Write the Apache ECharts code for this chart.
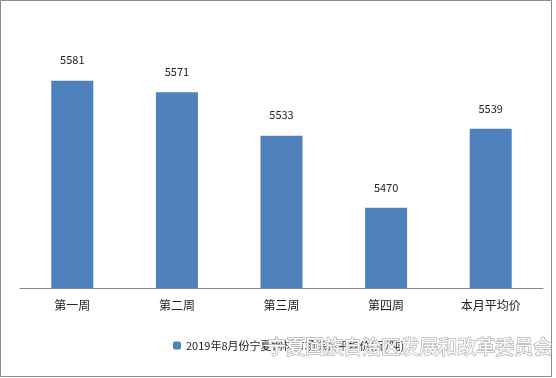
<!DOCTYPE html>
<html>
<head>
<meta charset="utf-8">
<script src="https://cdn.jsdelivr.net/npm/echarts@6/dist/echarts.min.js"></script>
<style>
    html, body { margin: 0; padding: 0; background: #fff; }
    #chart { width: 556px; height: 378px; }
</style>
</head>
<body>
<div id="chart"></div>
<script>
// 数据
const weeks = ['第一周', '第二周', '第三周', '第四周', '本月平均价'];
const prices = [5581, 5571, 5533, 5470, 5539];
const seriesName = '2019年8月份宁夏钢材市场综合平均价(元/吨)';
const watermark = '宁夏回族自治区发展和改革委员会';

(function() {
    const chart = echarts.init(document.getElementById('chart'));
    const font = '"Microsoft YaHei", "Noto Sans CJK SC", sans-serif';

    chart.setOption({
        animation: false,
        textStyle: { fontFamily: font },
        grid: { left: 20, right: 13, top: 59, bottom: 90 },
        legend: {
            data: [seriesName],
            bottom: 22,
            left: 168,
            itemWidth: 8,
            itemHeight: 8,
            itemGap: 4,
            textStyle: { fontSize: 11, color: '#222', fontFamily: font }
        },
        xAxis: {
            type: 'category',
            data: weeks,
            axisLine: { lineStyle: { color: '#868686', width: 1 } },
            axisTick: { show: false },
            axisLabel: { fontSize: 12, color: '#222', margin: 11 }
        },
        yAxis: {
            type: 'value',
            min: 5400,
            max: 5600,
            show: false,
            splitLine: { show: false }
        },
        series: [{
            name: seriesName,
            type: 'bar',
            data: prices,
            barWidth: 42,
            itemStyle: { color: '#4F81BD' },
            label: {
                show: true,
                position: 'top',
                distance: 15,
                fontSize: 11,
                color: '#222'
            }
        }],
        graphic: [
            {
                type: 'rect',
                shape: { x: 0.5, y: 0.5, width: 551, height: 376 },
                style: { fill: 'none', stroke: '#8c8c8c', lineWidth: 1 },
                silent: true
            },
            {
                // 水印
                type: 'text',
                right: 3,
                top: 337,
                z: 100,
                style: {
                    text: watermark,
                    fontSize: 19,
                    fontFamily: font,
                    fill: '#ffffff',
                    stroke: '#b4b4b4',
                    lineWidth: 1.5
                },
                silent: true
            }
        ]
    });
})();
</script>
</body>
</html>
